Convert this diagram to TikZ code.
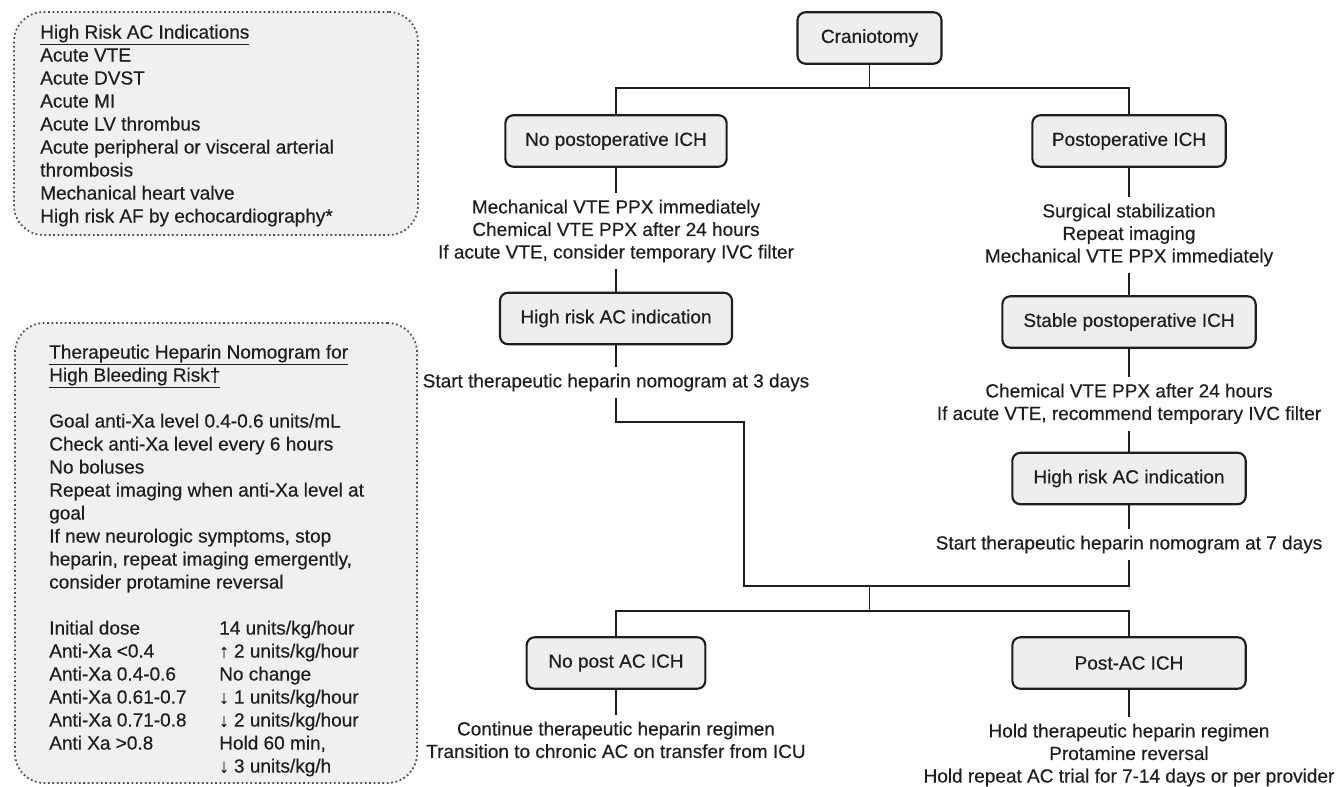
\documentclass[tikz,border=0pt]{standalone}
\usepackage{fontspec}
\setmainfont{Liberation Sans}[FakeBold=0.4]
\newcommand\ftxt{\fontsize{14.25pt}{16.9pt}\selectfont}
\newcommand\fnote{\fontsize{14.25pt}{17.25pt}\selectfont}
\definecolor{boxfill}{RGB}{238,238,238}
\definecolor{notefill}{RGB}{240,240,240}
\definecolor{ink}{RGB}{30,30,30}
\begin{document}
\begin{tikzpicture}[x=0.75pt,y=-0.75pt,
  fbox/.style={draw=ink, line width=1.6pt, fill=boxfill, rounded corners=6pt, minimum height=38.6pt, inner sep=0pt, font=\ftxt, text=ink},
  ftext/.style={align=center, inner xsep=0pt, inner ysep=4.8pt, anchor=north, font=\ftxt, text=ink},
  conn/.style={draw=ink, line width=1.2pt},
  note/.style={draw=black!70, dotted, line width=1.3pt, fill=notefill, rounded corners=22pt, inner sep=0pt},
  notetext/.style={anchor=north west, align=left, inner sep=0pt, font=\fnote, text=ink},
]
\useasboundingbox (0,0) rectangle (1341,787);

% side notes
\node[note, minimum width=303pt, minimum height=167.25pt] (note1) at (216,123.5) {};
\node[note, minimum width=301.5pt, minimum height=345pt] (note2) at (216,553) {};
\node[notetext] (ind) at (40,24.5) {\underline{High Risk AC Indications}\\Acute VTE\\Acute DVST\\Acute MI\\Acute LV thrombus\\Acute peripheral or visceral arterial\\thrombosis\\Mechanical heart valve\\High risk AF by echocardiography*};
\node[notetext] (nomo) at (49,344.5) {\underline{Therapeutic Heparin Nomogram for}\\\underline{High Bleeding Risk†}\\[17.25pt]Goal anti-Xa level 0.4-0.6 units/mL\\Check anti-Xa level every 6 hours\\No boluses\\Repeat imaging when anti-Xa level at\\goal\\If new neurologic symptoms, stop\\heparin, repeat imaging emergently,\\consider protamine reversal\\[17.25pt]\makebox[127.5pt][l]{Initial dose}14 units/kg/hour\\\makebox[127.5pt][l]{Anti-Xa <0.4}↑ 2 units/kg/hour\\\makebox[127.5pt][l]{Anti-Xa 0.4-0.6}No change\\\makebox[127.5pt][l]{Anti-Xa 0.61-0.7}↓ 1 units/kg/hour\\\makebox[127.5pt][l]{Anti-Xa 0.71-0.8}↓ 2 units/kg/hour\\\makebox[127.5pt][l]{Anti Xa >0.8}Hold 60 min,\\\hspace*{127.5pt}↓ 3 units/kg/h};

% flowchart boxes
\node[fbox, minimum width=108pt] (cran) at (869.5,38) {Craniotomy};
\node[fbox, minimum width=166pt] (nopost) at (616,141) {No postoperative ICH};
\node[fbox, minimum width=145pt] (post) at (1129,141) {Postoperative ICH};
\node[fbox, minimum width=174pt] (highL) at (616,318.5) {High risk AC indication};
\node[fbox, minimum width=190pt] (stable) at (1129,322) {Stable postoperative ICH};
\node[fbox, minimum width=175pt] (highR) at (1129,478.5) {High risk AC indication};
\node[fbox, minimum width=134pt] (nopostac) at (616,663) {No post AC ICH};
\node[fbox, minimum width=175pt] (postac) at (1129,663) {Post-AC ICH};

% flowchart texts
\node[ftext] (t1) at (616,193) {Mechanical VTE PPX immediately\\Chemical VTE PPX after 24 hours\\If acute VTE, consider temporary IVC filter};
\node[ftext] (t2) at (1129,197) {Surgical stabilization\\Repeat imaging\\Mechanical VTE PPX immediately};
\node[ftext] (t3) at (616,367) {Start therapeutic heparin nomogram at 3 days};
\node[ftext] (t4) at (1129,377) {Chemical VTE PPX after 24 hours\\If acute VTE, recommend temporary IVC filter};
\node[ftext] (t5) at (1129,529) {Start therapeutic heparin nomogram at 7 days};
\node[ftext] (t6) at (616,715) {Continue therapeutic heparin regimen\\Transition to chronic AC on transfer from ICU};
\node[ftext] (t7) at (1129,717) {Hold therapeutic heparin regimen\\Protamine reversal\\Hold repeat AC trial for 7-14 days or per provider};

% connectors
\coordinate (j0) at (869.5,88);
\coordinate (j1) at (869.5,586);
\coordinate (j2) at (869.5,611);
\coordinate (bend) at (744,422);
\draw[conn] (cran.south) -- (j0);
\draw[conn] (nopost.north) |- (j0) -| (post.north);
\draw[conn] (nopost.south) -- (t1.north);
\draw[conn] (t1.south) -- (highL.north);
\draw[conn] (highL.south) -- (t3.north);
\draw[conn] (t3.south) |- (bend) |- (j1) -| (t5.south);
\draw[conn] (post.south) -- (t2.north);
\draw[conn] (t2.south) -- (stable.north);
\draw[conn] (stable.south) -- (t4.north);
\draw[conn] (t4.south) -- (highR.north);
\draw[conn] (highR.south) -- (t5.north);
\draw[conn] (j1) -- (j2);
\draw[conn] (nopostac.north) |- (j2) -| (postac.north);
\draw[conn] (nopostac.south) -- (t6.north);
\draw[conn] (postac.south) -- (t7.north);
\end{tikzpicture}
\end{document}
